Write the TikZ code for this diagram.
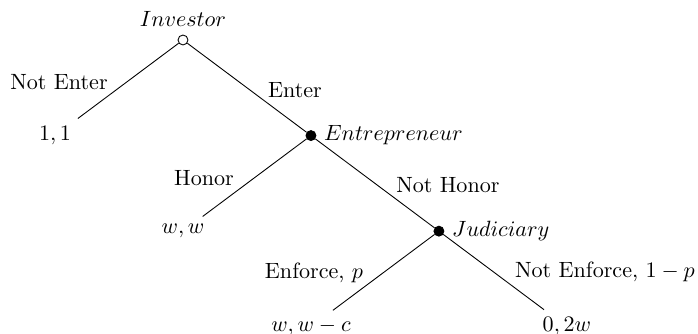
\documentclass[tikz,border=0pt]{standalone}
\usepackage{amsmath,amssymb}
\usepackage{tikz}
\usetikzlibrary{positioning}
\tikzset{
  game/decision/.style={draw, circle, fill=black, inner sep=0pt, minimum size=4.5pt},
  game/root/.style={game/decision, fill=white},
  game/move/.style={inner sep=1pt},
  game/payoff/.style={align=center},
  game/line/.style={draw, line width=0.4pt}
}

\begin{document}
\begin{tikzpicture}[
  on grid,
  node distance=1.52cm and 2.035cm
]
\useasboundingbox (0,0) rectangle (11.1,-5.31);

% decision nodes
\node[game/root, label=above:$Investor$] (inv) at (2.91,-0.636) {};
\node[game/decision, below right=of inv, label=right:$Entrepreneur$] (ent) {};
\node[game/decision, below right=of ent, label=right:$Judiciary$] (jud) {};

% payoffs
\node[game/payoff, below left=of inv] (p1) {$1,1$};
\node[game/payoff, below left=of ent] (p2) {$w,w$};
\node[game/payoff, below left=of jud] (p3) {$w,w-c$};
\node[game/payoff, below right=of jud] (p4) {$0,2w$};

\draw[game/line] (inv) -- (p1);
\draw[game/line] (inv) -- (ent);
\draw[game/line] (ent) -- (p2);
\draw[game/line] (ent) -- (jud);
\draw[game/line] (jud) -- (p3);
\draw[game/line] (jud) -- (p4);

% moves
\node[game/move] (mne) at (0.938,-1.304) {Not Enter};
\node[game/move] (me) at (4.69,-1.431) {Enter};
\node[game/move] (mh) at (3.244,-2.83) {Honor};
\node[game/move] (mnh) at (7.123,-2.942) {Not Honor};
\node[game/move] (mef) at (4.993,-4.341) {Enforce, $p$};
\node[game/move] (mnef) at (9.62,-4.325) {Not Enforce, $1-p$};

\end{tikzpicture}
\end{document}
